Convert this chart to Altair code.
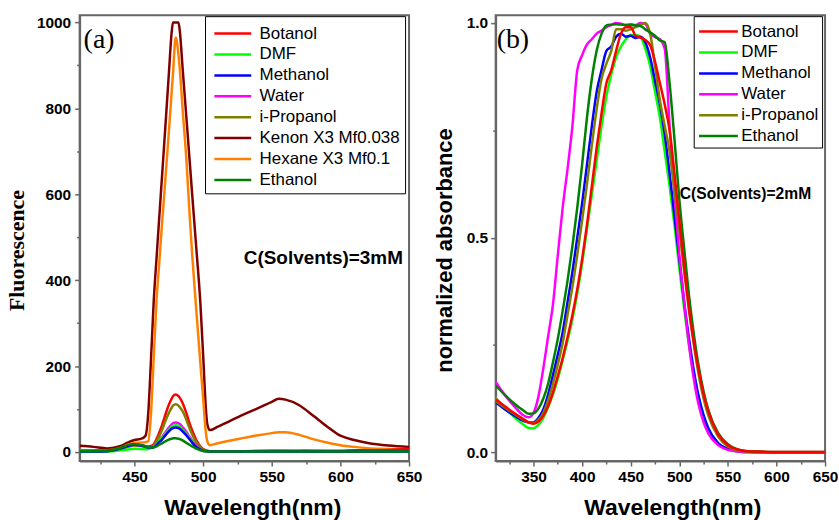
import altair as alt
import pandas as pd

# ---------------- Panel (a): fluorescence ----------------
A_WL = [410, 420, 430, 440, 445, 450, 455, 458, 460, 462,
        464, 466, 468, 470, 472, 475, 477, 478, 480, 482,
        483, 485, 488, 490, 492, 495, 498, 500, 502, 503,
        505, 510, 520, 530, 540, 550, 555, 560, 570, 580,
        590, 600, 610, 620, 635, 650]
A_NAMES = ["Botanol", "DMF", "Methanol", "Water", "i-Propanol",
           "Kenon X3 Mf0.038", "Hexane X3 Mf0.1", "Ethanol"]
A_COLORS = ["#ff0000", "#00ff00", "#0000ff", "#ff00ff", "#808000",
            "#800000", "#ff8000", "#008000"]

a_botanol = [3, 3, 3, 8, 14, 17, 16, 14, 13, 14,
             18, 30, 45, 62, 82, 110, 124, 130, 134, 130,
             126, 114, 88, 68, 50, 28, 13, 7, 4, 3,
             2, 1.5, 1.5, 1.5, 2, 2, 2, 2, 2.5, 3,
             3, 3, 4, 4, 5, 7]
a_dmf = [0, 0.5, 1, 4, 6, 7.5, 7, 6.5, 7, 9,
         12, 18, 26, 33, 41, 52, 59, 61, 62.5, 61,
         59, 52, 41, 33, 24, 13, 6, 3, 2, 1.5,
         1, 0.5, 0.5, 0.5, 0.5, 0.5, 0.5, 0.5, 0.5, 0.5,
         0.5, 0.5, 0.5, 0.5, 0.5, 0.5]
a_methanol = [1, 1, 2, 8, 14, 17, 15, 12, 10, 10,
              11, 16, 23, 29, 37, 48, 54, 56, 57, 56,
              54, 48, 38, 30, 22, 12, 6, 3, 2, 1.5,
              1, 1, 1, 1, 1, 1, 1, 1, 1, 1,
              1, 1, 1, 1, 1, 1]
a_water = [1, 1, 2, 8, 14, 17, 15, 12, 10, 10,
           12, 19, 27, 35, 44, 57, 64, 67, 69, 67,
           65, 58, 46, 36, 27, 15, 7, 4, 2.5, 2,
           1.5, 1, 1.5, 2, 3, 3.5, 3.5, 3.5, 3, 2.5,
           2, 1.5, 1.5, 1.5, 1.5, 1.5]
a_ipropanol = [2.5, 2.5, 2.5, 7, 12, 15, 14, 12, 11, 12,
               15, 25, 37, 51, 68, 91, 103, 108, 111, 108,
               104, 95, 73, 56, 41, 23, 11, 6, 3.5, 2.5,
               1.5, 1, 1, 1, 1.5, 1.5, 1.5, 1.5, 1.5, 1.5,
               1.5, 1.5, 1.5, 1.5, 1.5, 1.5]
a_kenon = [14.6, 12, 8.5, 14, 22, 28, 31, 38, 90, 215,
           352, 450, 545, 640, 735, 880, 975, 1000, 1000, 1000,
           980, 895, 770, 685, 600, 475, 345, 225, 100, 65,
           51, 58, 73, 88, 102, 117, 124, 122, 109, 85,
           60, 38, 28, 21, 15, 12]
a_hexane = [5, 4, 4, 10, 17, 21, 22, 23, 25, 90,
            220, 352, 440, 530, 615, 745, 835, 880, 965, 925,
            890, 800, 670, 560, 460, 330, 205, 125, 45, 25,
            16, 20, 27, 33, 39, 44, 46, 46, 40, 30,
            22, 16, 12, 9, 7, 5]
a_ethanol = [2, 2, 3, 10, 16, 18, 16, 13, 11, 10,
             11, 13, 17, 20, 24, 29, 31, 32, 32, 31,
             30, 27, 21, 17, 13, 8, 4, 2.5, 2, 1.5,
             1, 1.5, 1.5, 1.5, 1.5, 1.5, 1.5, 1.5, 1.5, 1.5,
             1.5, 1.5, 1.5, 1.5, 1.5, 1.5]
A_SERIES = [a_botanol, a_dmf, a_methanol, a_water, a_ipropanol,
            a_kenon, a_hexane, a_ethanol]
A_ZORDER = ["Kenon X3 Mf0.038", "Hexane X3 Mf0.1", "Botanol", "i-Propanol",
            "Water", "DMF", "Methanol", "Ethanol"]

A_XTICKS = [425, 450, 475, 500, 525, 550, 575, 600, 625, 650]
A_YTICKS = [0, 100, 200, 300, 400, 500, 600, 700, 800, 900, 1000]

# ---------------- Panel (b): normalized absorbance ----------------
B_WL = [311, 320, 330, 340, 345, 350, 355, 360, 365, 370,
        375, 380, 385, 390, 395, 400, 405, 410, 415, 420,
        425, 430, 435, 440, 445, 450, 455, 460, 465, 470,
        475, 480, 485, 490, 495, 500, 505, 510, 515, 520,
        525, 530, 540, 550, 560, 570, 580, 600, 625, 650]
B_NAMES = ["Botanol", "DMF", "Methanol", "Water", "i-Propanol", "Ethanol"]
B_COLORS = ["#ff0000", "#00ff00", "#0000ff", "#ff00ff", "#808000", "#008000"]

b_botanol = [.124, .108, .092, .077, .070, .067, .072, .085, .108, .140,
             .178, .220, .268, .320, .380, .450, .530, .620, .710, .790,
             .860, .890, .935, .975, .990, .990, .970, .966, .960, .948,
             .910, .860, .810, .750, .650, .540, .435, .335, .255, .190,
             .135, .095, .042, .017, .007, .003, .002, .001, .001, .001]
b_dmf = [.127, .105, .083, .064, .057, .056, .064, .080, .105, .135,
         .172, .215, .260, .310, .370, .440, .520, .600, .680, .760,
         .830, .880, .920, .945, .962, .972, .972, .968, .940, .900,
         .840, .780, .700, .620, .530, .430, .335, .250, .180, .125,
         .082, .052, .020, .008, .003, .001, .001, 0, 0, 0]
b_methanol = [.117, .101, .086, .073, .070, .070, .080, .100, .135, .180,
              .228, .280, .350, .420, .500, .580, .670, .760, .840, .890,
              .935, .945, .968, .975, .968, .970, .965, .968, .955, .920,
              .865, .810, .740, .650, .550, .450, .350, .265, .190, .130,
              .087, .056, .022, .008, .003, .001, .001, 0, 0, 0]
b_water = [.164, .135, .108, .086, .082, .092, .130, .195, .270, .345,
           .460, .570, .660, .760, .890, .925, .950, .962, .975, .982,
           .990, .995, 1.0, .998, .995, .997, .995, 1.0, .998, .975,
           .967, .962, .940, .760, .600, .460, .350, .250, .170, .110,
           .070, .044, .017, .006, .002, .001, 0, 0, 0, 0]
b_ipropanol = [.120, .105, .090, .076, .070, .068, .076, .092, .122, .160,
               .205, .255, .320, .385, .460, .540, .625, .715, .800, .870,
               .905, .935, .985, .985, .982, .985, .990, .995, 1.0, .975,
               .900, .820, .760, .700, .610, .520, .420, .330, .250, .180,
               .125, .085, .037, .014, .005, .002, .001, 0, 0, 0]
b_ethanol = [.156, .135, .114, .097, .090, .091, .102, .125, .160, .210,
             .265, .330, .400, .480, .570, .670, .780, .870, .936, .975,
             .994, .996, .997, .996, .995, .995, .994, .993, .985, .978,
             .970, .959, .955, .860, .730, .590, .475, .365, .275, .200,
             .142, .098, .045, .019, .007, .003, .002, .001, .001, .001]
B_SERIES = [b_botanol, b_dmf, b_methanol, b_water, b_ipropanol, b_ethanol]
B_ZORDER = ["DMF", "Methanol", "Water", "i-Propanol", "Ethanol", "Botanol"]

B_XTICKS = [325, 350, 375, 400, 425, 450, 475, 500, 525, 550, 575, 600, 625, 650]
B_YTICKS = [0, 0.25, 0.5, 0.75, 1.0]


def long_df(wl, names, series):
    rows = []
    for name, vals in zip(names, series):
        for w, v in zip(wl, vals):
            rows.append({"wl": w, "val": v, "series": name})
    return pd.DataFrame(rows)


dfa = long_df(A_WL, A_NAMES, A_SERIES)
dfb = long_df(B_WL, B_NAMES, B_SERIES)

FRAME = "#666666"
W, H = 331, 448
SANS = "Liberation Sans"
SERIF = "Liberation Serif"


def xaxis(values, test_minor, title_x):
    return alt.Axis(values=values, format="d", labelFlush=False,
                    labelExpr=f"{test_minor} ? '' : datum.label",
                    tickSize={"condition": {"test": test_minor, "value": 3}, "value": 5},
                    labelPadding=4, title="Wavelength(nm)", titleFont=SANS,
                    titleFontSize=23, titleFontWeight="bold", titlePadding=11,
                    titleX=title_x)


def line_layers(df, names, colors, zorder, xenc, yenc, legend):
    base = alt.Chart(df).mark_line(strokeWidth=2.5, interpolate="monotone", clip=True).encode(
        x=xenc, y=yenc,
        color=alt.Color("series:N", scale=alt.Scale(domain=names, range=colors),
                        legend=legend, title=None),
    )
    return [base.transform_filter(alt.datum.series == s) for s in zorder]


def text_layer(txt, x, y, font, size, weight):
    return alt.Chart(pd.DataFrame({"t": [txt]})).mark_text(
        font=font, fontSize=size, fontWeight=weight, align="left", baseline="middle",
        color="black").encode(text="t:N", x=alt.value(x), y=alt.value(y))


# ---- panel a
xa = alt.X("wl:Q", scale=alt.Scale(domain=[410, 650], nice=False, zero=False),
           axis=xaxis(A_XTICKS, "datum.value % 50 != 0", W / 2 + 8))
ya = alt.Y("val:Q", scale=alt.Scale(domain=[-21, 1017], nice=False, zero=False),
           axis=alt.Axis(values=A_YTICKS, format="d", labelFlush=False,
                         labelExpr="datum.value % 200 != 0 ? '' : datum.label",
                         tickSize={"condition": {"test": "datum.value % 200 != 0", "value": 3},
                                   "value": 5},
                         labelPadding=4, title="Fluorescence", titleFont=SERIF,
                         titleFontSize=22, titleFontWeight="bold", titlePadding=8,
                         titleY=H / 2 + 12))
# legend symbol: a horizontal line path wider than its nominal size box,
# so the rows stay compact while the sample line stays long
leg_a = alt.Legend(orient="none", legendX=126, legendY=1, strokeColor="black",
                   fillColor="white", padding=5, labelFont=SANS, labelFontSize=17,
                   labelColor="black", symbolType="M-1.667,0H1.667", symbolSize=493,
                   symbolStrokeWidth=2.5, symbolOffset=10.4, rowPadding=0,
                   labelOffset=14.4, labelLimit=400)
panel_a = alt.layer(
    *line_layers(dfa, A_NAMES, A_COLORS, A_ZORDER, xa, ya, leg_a),
    text_layer("(a)", 4, 25, SERIF, 28, "normal"),
    text_layer("C(Solvents)=3mM", 165, 244, SANS, 19, "bold"),
).properties(width=W, height=H)

# ---- panel b
xb = alt.X("wl:Q", scale=alt.Scale(domain=[311, 650], nice=False, zero=False),
           axis=xaxis(B_XTICKS, "datum.value % 50 != 0", W / 2 + 12))
yb = alt.Y("val:Q", scale=alt.Scale(domain=[-0.02, 1.018], nice=False, zero=False),
           axis=alt.Axis(values=B_YTICKS, format=".1f", labelFlush=False,
                         labelExpr="(datum.value * 4) % 2 == 1 ? '' : datum.label",
                         tickSize={"condition": {"test": "(datum.value * 4) % 2 == 1", "value": 3},
                                   "value": 5},
                         labelPadding=3, title="normalized absorbance", titleFont=SANS,
                         titleFontSize=22, titleFontWeight="bold", titlePadding=10,
                         titleY=H / 2 + 12))
leg_b = alt.Legend(orient="none", legendX=199, legendY=1, strokeColor="black",
                   fillColor="white", padding=3, labelFont=SANS, labelFontSize=17,
                   labelColor="black", symbolType="M-1.757,0H1.757", symbolSize=493,
                   symbolStrokeWidth=2.5, symbolOffset=9.4, rowPadding=0,
                   labelOffset=10.4, labelLimit=400,
                   labelExpr="datum.label == 'DMF' ? 'DMF' : '\u00a0' + datum.label")
panel_b = alt.layer(
    *line_layers(dfb, B_NAMES, B_COLORS, B_ZORDER, xb, yb, leg_b),
    text_layer("(b)", 1, 25, SERIF, 28, "normal"),
    text_layer("C(Solvents)=2mM", 185, 180, SANS, 15.7, "bold"),
).properties(width=W, height=H)

chart = alt.hconcat(panel_a, panel_b, spacing=87, bounds="flush").resolve_scale(
    color="independent", x="independent", y="independent"
).properties(
    padding={"left": 4, "top": 13, "right": 0, "bottom": 0},
    background="white",
).configure_view(
    stroke=FRAME, strokeWidth=2
).configure_axis(
    domainColor=FRAME, domainWidth=2, tickColor=FRAME, tickWidth=1.5,
    labelFont=SANS, labelFontSize=15.5, labelFontWeight="bold", labelColor="black",
    titleColor="black", grid=False
)

chart.save("out.html", embed_options={"renderer": "svg", "actions": False})
